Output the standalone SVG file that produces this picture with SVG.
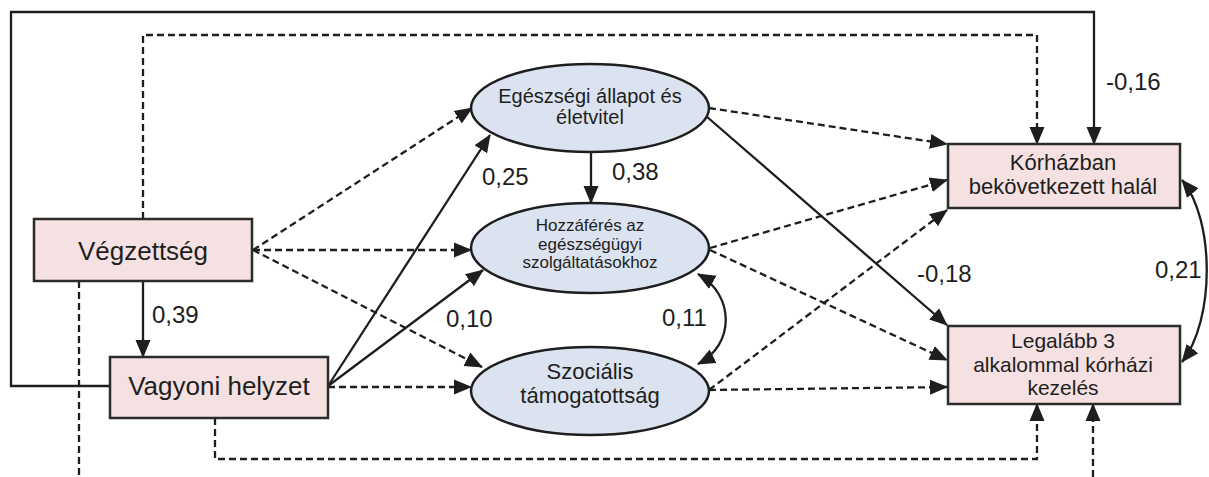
<svg xmlns="http://www.w3.org/2000/svg" width="1209" height="477" viewBox="0 0 1209 477">
<style>
text{font-family:"Liberation Sans",Arial,sans-serif;fill:#1e1e1e}
.box{fill:#f5e1e1;stroke:#2b2b2b;stroke-width:2.5}
.ell{fill:#dce3f0;stroke:#1e1e1e;stroke-width:2.5}
.s{fill:none;stroke:#1e1e1e;stroke-width:2.3}
.d{fill:none;stroke:#1e1e1e;stroke-width:2.3;stroke-dasharray:7 4}
.a{marker-end:url(#ah)}
.b{marker-start:url(#ah);marker-end:url(#ah)}
.lbl{font-size:24px}
</style>
<defs>
<marker id="ah" viewBox="0 0 18 18" refX="17" refY="9" markerWidth="18" markerHeight="18" markerUnits="userSpaceOnUse" orient="auto-start-reverse">
<path d="M0,1.5 L18,9 L0,16.5 z" fill="#1e1e1e" stroke="none"/>
</marker>
</defs>
<g id="connectors">
<path class="s a" d="M110,386 H11 V12 H1094 V144"/>
<path class="d a" d="M143,219 V35 H1037 V144"/>
<path class="s a" d="M143,281 V357"/>
<path class="d" d="M79,281 V477"/>
<path class="d a" d="M215,418 V459 H1037 V404"/>
<path class="d a" d="M1093,477 V404"/>
<path class="d a" d="M253,250 L472,108"/>
<path class="d a" d="M253,250 L471,250"/>
<path class="d a" d="M253,250 L482,367"/>
<path class="s a" d="M328,386 L490,135"/>
<path class="s a" d="M328,386 L483,270"/>
<path class="d a" d="M328,387 L471,387"/>
<path class="s a" d="M591,152 V203"/>
<path class="d a" d="M709,108 L947,144"/>
<path class="s a" d="M706,116 L947,325"/>
<path class="d a" d="M710,248 L947,180"/>
<path class="d a" d="M710,250 L947,360"/>
<path class="d a" d="M709,390 L947,210"/>
<path class="d a" d="M709,390 L947,387"/>
<path class="s b" d="M698,274 C735,295 735,345 698,364"/>
<path class="s b" d="M1182,180 C1215,220 1215,320 1182,362"/>
<text class="lbl" x="152" y="323">0,39</text>
<text class="lbl" x="482" y="185">0,25</text>
<text class="lbl" x="612" y="180">0,38</text>
<text class="lbl" x="446" y="327">0,10</text>
<text class="lbl" x="662" y="326">0,11</text>
<text class="lbl" x="917" y="282">-0,18</text>
<text class="lbl" x="1155" y="278">0,21</text>
<text class="lbl" x="1106" y="90">-0,16</text>
</g>
<g id="vegzettseg">
<rect class="box" x="34" y="219" width="218" height="62"/>
<text x="143" y="260" font-size="26" text-anchor="middle">Végzettség</text>
</g>
<g id="vagyoni">
<rect class="box" x="110" y="357" width="218" height="61"/>
<text x="219" y="395" font-size="26" text-anchor="middle">Vagyoni helyzet</text>
</g>
<g id="egeszsegi">
<ellipse class="ell" cx="590" cy="108" rx="119" ry="44"/>
<text x="590" y="103" font-size="20" text-anchor="middle">Egészségi állapot és</text>
<text x="590" y="124" font-size="20" text-anchor="middle">életvitel</text>
</g>
<g id="hozzaferes">
<ellipse class="ell" cx="590" cy="248" rx="119" ry="45"/>
<text x="590" y="231" font-size="17" text-anchor="middle">Hozzáférés az</text>
<text x="590" y="249.5" font-size="17" text-anchor="middle">egészségügyi</text>
<text x="590" y="268" font-size="17" text-anchor="middle">szolgáltatásokhoz</text>
</g>
<g id="szocialis">
<ellipse class="ell" cx="590" cy="391" rx="119" ry="44"/>
<text x="590" y="379" font-size="22" text-anchor="middle">Szociális</text>
<text x="590" y="403" font-size="22" text-anchor="middle">támogatottság</text>
</g>
<g id="korhazban">
<rect class="box" x="948" y="144" width="232" height="64"/>
<text x="1063" y="170" font-size="22" text-anchor="middle">Kórházban</text>
<text x="1063" y="194" font-size="22" text-anchor="middle">bekövetkezett halál</text>
</g>
<g id="legalabb">
<rect class="box" x="948" y="326" width="232" height="78"/>
<text x="1063" y="348" font-size="21" text-anchor="middle">Legalább 3</text>
<text x="1063" y="372" font-size="21" text-anchor="middle">alkalommal kórházi</text>
<text x="1063" y="395" font-size="21" text-anchor="middle">kezelés</text>
</g>
</svg>
